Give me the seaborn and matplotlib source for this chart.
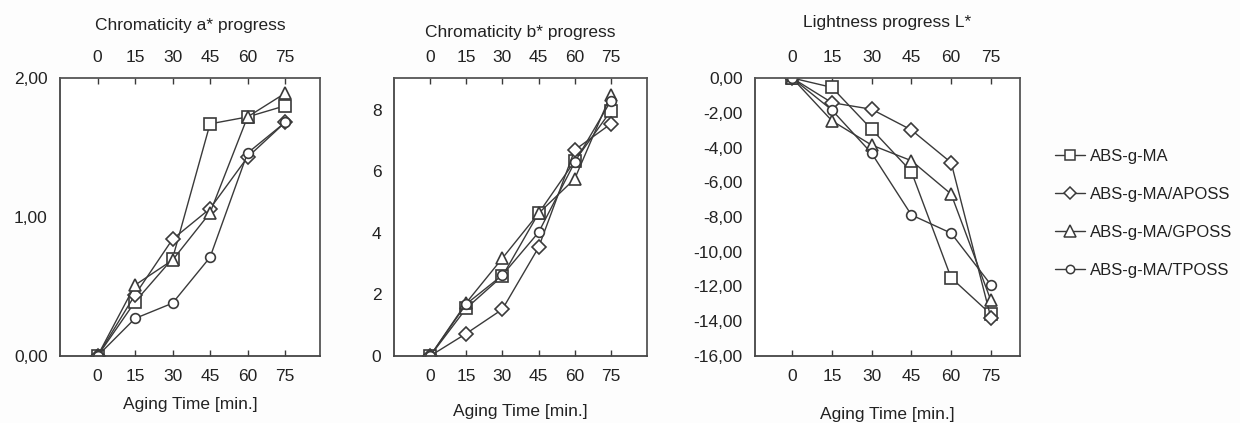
import numpy as np
import pandas as pd
import matplotlib
matplotlib.use("Agg")
import matplotlib.pyplot as plt
from matplotlib.lines import Line2D
from matplotlib.ticker import FuncFormatter
import seaborn as sns

# aging time [min]
time = [0, 15, 30, 45, 60, 75]
samples = ["ABS-g-MA", "ABS-g-MA/APOSS", "ABS-g-MA/GPOSS", "ABS-g-MA/TPOSS"]

# chromaticity a*
a_ma = [0, 0.39, 0.70, 1.67, 1.72, 1.80]
a_aposs = [0, 0.44, 0.84, 1.06, 1.43, 1.68]
a_gposs = [0, 0.51, 0.69, 1.03, 1.72, 1.89]
a_tposs = [0, 0.27, 0.38, 0.71, 1.46, 1.68]

# chromaticity b*
b_ma = [0, 1.55, 2.60, 4.64, 6.34, 7.97]
b_aposs = [0, 0.73, 1.52, 3.53, 6.70, 7.55]
b_gposs = [0, 1.73, 3.18, 4.64, 5.76, 8.50]
b_tposs = [0, 1.69, 2.63, 4.02, 6.30, 8.30]

# lightness L*
l_ma = [0, -0.54, -2.95, -5.39, -11.50, -13.60]
l_aposs = [0, -1.42, -1.80, -2.99, -4.87, -13.80]
l_gposs = [0, -2.46, -3.86, -4.76, -6.68, -12.80]
l_tposs = [0, -1.84, -4.33, -7.88, -8.93, -11.90]

markers = {samples[0]: "s", samples[1]: "D", samples[2]: "^", samples[3]: "o"}
msizes = {samples[0]: 8.5, samples[1]: 7.5, samples[2]: 9, samples[3]: 7}
ink = "#3a3a3a"
txt = "#222222"
fs = 12.5

sns.set_style("white")
plt.rcParams["font.family"] = ["Liberation Sans", "DejaVu Sans"]
plt.rcParams["font.size"] = fs


def long_df(series):
    rows = []
    for name, vals in zip(samples, series):
        for t, v in zip(time, vals):
            rows.append({"time": t, "value": v, "sample": name})
    return pd.DataFrame(rows)


comma2 = FuncFormatter(lambda v, p: f"{v:.2f}".replace(".", ","))
plain = FuncFormatter(lambda v, p: f"{v:.0f}")

fig = plt.figure(figsize=(12.4, 4.23), dpi=100)
fig.patch.set_facecolor("#fdfdfd")

# series, title, axes rect, ylim, yticks, formatter, xlim, title y, xlabel y
panels = [
    ([a_ma, a_aposs, a_gposs, a_tposs], "Chromaticity a* progress",
     [0.0484, 0.1584, 0.2097, 0.6572], (0, 2), [0, 1, 2], comma2, (-15, 89), 1.19, -0.176),
    ([b_ma, b_aposs, b_gposs, b_tposs], "Chromaticity b* progress",
     [0.3177, 0.1584, 0.2041, 0.6572], (0, 9.04), [0, 2, 4, 6, 8], plain, (-15, 90), 1.165, -0.198),
    ([l_ma, l_aposs, l_gposs, l_tposs], "Lightness progress L*",
     [0.6089, 0.1584, 0.2137, 0.6572], (-16, 0), list(range(-16, 1, 2)), comma2, (-14, 86), 1.20, -0.212),
]

for series, title, rect, ylim, yticks, fmt, xlim, ty, xly in panels:
    ax = fig.add_axes(rect)
    ax.set_facecolor("white")
    df = long_df(series)
    for name in samples:
        sub = df[df["sample"] == name]
        sns.lineplot(
            data=sub, x="time", y="value", ax=ax, color=ink, lw=1.0,
            marker=markers[name], markersize=msizes[name],
            markerfacecolor="white", markeredgecolor=ink, markeredgewidth=1.2,
            sort=False, legend=False,
        )
    ax.set_xlim(*xlim)
    ax.set_ylim(*ylim)
    ax.set_yticks(yticks)
    ax.yaxis.set_major_formatter(fmt)
    ax.set_xticks(time)
    ax.tick_params(axis="x", direction="in", length=4, width=1.0, color=ink,
                   top=True, labeltop=True, bottom=True, labelbottom=True, pad=9.5,
                   labelsize=fs, labelcolor=txt)
    ax.tick_params(axis="y", direction="out", length=4, width=1.0, color=ink,
                   pad=5, labelsize=fs, labelcolor=txt)
    for side in ["left", "bottom"]:
        ax.spines[side].set_color("#444444")
        ax.spines[side].set_linewidth(1.3)
    for side in ["top", "right"]:
        ax.spines[side].set_color("#555555")
        ax.spines[side].set_linewidth(1.3)
    ax.set_xlabel("")
    ax.set_ylabel("")
    ax.text(0.5, xly, "Aging Time [min.]", transform=ax.transAxes, ha="center",
            va="center", fontsize=fs, color=txt)
    ax.text(0.5, ty, title, transform=ax.transAxes, ha="center", va="center",
            fontsize=fs, color=txt)

handles = [
    Line2D([], [], color=ink, lw=1.0, marker=markers[n], markersize=msizes[n] - 1,
           markerfacecolor="white", markeredgecolor=ink, markeredgewidth=1.1)
    for n in samples
]
fig.legend(handles, samples, loc="center left", bbox_to_anchor=(0.843, 0.495),
           frameon=False, fontsize=12, labelspacing=1.38, handlelength=1.8,
           handletextpad=0.3, labelcolor=txt, borderaxespad=0.2)

fig.savefig("out.png", dpi=100, facecolor=fig.get_facecolor())
